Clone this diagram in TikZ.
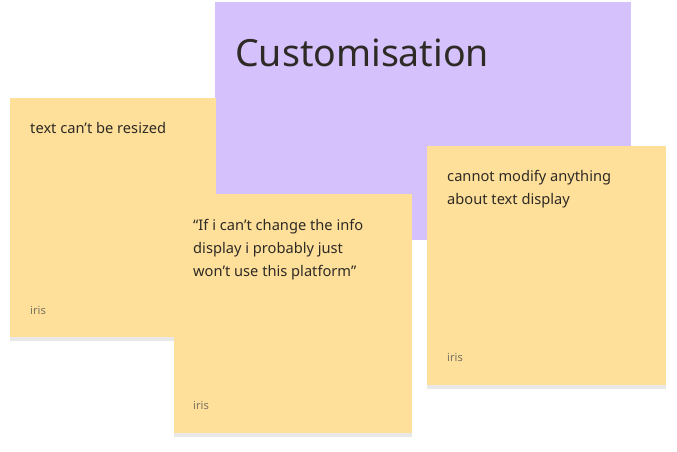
\documentclass[tikz,border=0pt]{standalone}
\usepackage{fontspec}
\setmainfont{Noto Sans}
\usetikzlibrary{shadows}
\definecolor{notebg}{HTML}{FEE09A}
\definecolor{titlebg}{HTML}{D5C2FC}
\definecolor{inktext}{HTML}{2E2A26}
\definecolor{inkname}{HTML}{7A7060}
\tikzset{
  note/.style={fill=notebg,draw=none,drop shadow={shadow xshift=0pt,shadow yshift=-3pt,opacity=0.18}},
  notetext/.style={anchor=north west,inner sep=0pt,text=inktext,font=\fontsize{12.5}{19.5}\selectfont,align=left},
  author/.style={anchor=west,inner sep=0pt,text=inkname,font=\fontsize{9.5}{11}\selectfont}
}
\begin{document}
\begin{tikzpicture}[x=0.03cm,y=-0.03cm]
\useasboundingbox[fill=white] (0,0) rectangle (677,452);
% title card
\fill[titlebg] (215,2) rectangle (631,240);
\node[anchor=west,inner sep=0pt,text=inktext,font=\fontsize{32}{36}\selectfont] (title) at (235,53) {Customisation};
% notes
\path[note] (10,98) rectangle (216,337);
\node[notetext] (t1) at (30,122) {text can’t be resized};
\node[author] (a1) at (30,310) {iris};

\path[note] (427,146) rectangle (666,385);
\node[notetext] (t3) at (447,170) {cannot modify anything\\about text display};
\node[author] (a3) at (447,357) {iris};

\path[note] (174,194) rectangle (412,433);
\node[notetext] (t2) at (193,219) {“If i can’t change the info\\display i probably just\\won’t use this platform”};
\node[author] (a2) at (193,405) {iris};
\end{tikzpicture}
\end{document}
